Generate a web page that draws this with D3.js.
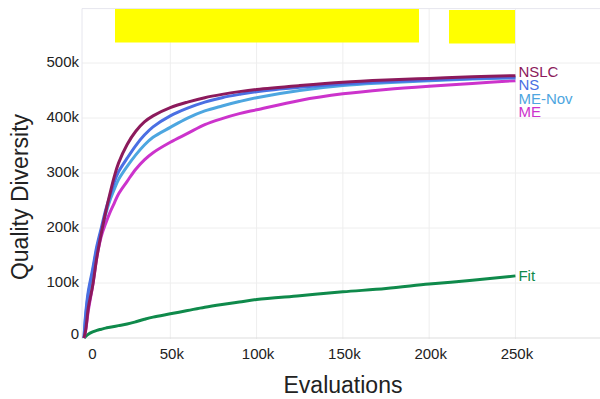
<!DOCTYPE html>
<html><head><meta charset="utf-8">
<script src="https://cdn.jsdelivr.net/npm/d3@7"></script>
<style>html,body{margin:0;padding:0;background:#fff;}svg{display:block;font-family:"Liberation Sans",Arial,sans-serif;}</style>
</head><body>
<svg id="chart" width="600" height="399"></svg>
<script>
const evals = [0,1000,2500,5000,7500,10000,12500,15000,17500,20000,25000,30000,35000,40000,50000,60000,70000,80000,90000,100000,125000,150000,175000,200000,225000,250000];
const nslc  = [0,15000,55000,95000,148000,190000,228000,262000,293000,318000,352000,376000,393000,404000,419000,429000,437000,443000,448000,452000,459000,465000,469000,472000,475000,477000];
const ns    = [0,45000,85000,125000,168000,200000,232000,258000,283000,302000,327000,350000,369000,384000,404000,418000,429000,437000,443000,448000,456000,462000,466000,469000,472000,474000];
const meNov = [0,40000,80000,120000,163000,195000,225000,250000,270000,288000,312000,333000,351000,365000,383000,400000,413000,422000,430000,437000,450000,459000,464000,468000,471000,473000];
const me    = [0,15000,50000,95000,148000,185000,208000,228000,245000,262000,285000,307000,324000,337000,356000,372000,388000,399000,408000,415000,432000,444000,452000,458000,463000,468000];
const fit   = [0,3000,7000,11000,14000,16000,18000,19500,21000,22500,25500,29500,34000,38000,44000,50000,56000,61000,65500,70000,77000,84000,90000,98000,105000,113000];
const seriesNames = ["NSLC","NS","ME-Nov","ME","Fit"];
const seriesColors = ["#8c1a5c","#4a6fe3","#4da6e0","#cc33cc","#0f8a4b"];
const xTicks = [0,50000,100000,150000,200000,250000];
const yTicks = [0,100000,200000,300000,400000,500000];
const fmt = v => v === 0 ? "0" : (v/1000) + "k";

const svg = d3.select("#chart");
const x = d3.scaleLinear().domain([-1160, 299000]).range([82, 600]);
const y = d3.scaleLinear().domain([-1800, 599000]).range([339, 8.6]);

// gridlines
svg.append("g").selectAll("line").data(xTicks.slice(1).concat([300000])).join("line")
  .attr("x1", d => x(d)).attr("x2", d => x(d)).attr("y1", y.range()[1]).attr("y2", y.range()[0])
  .attr("stroke", "#eeeeee").attr("stroke-width", 1);
svg.append("g").selectAll("line").data(yTicks.slice(1)).join("line")
  .attr("x1", 82).attr("x2", 600).attr("y1", d => y(d)).attr("y2", d => y(d))
  .attr("stroke", "#eeeeee").attr("stroke-width", 1);
// frame
svg.append("line").attr("x1", 82).attr("x2", 600).attr("y1", 8.6).attr("y2", 8.6).attr("stroke", "#e6e6ee");
svg.append("line").attr("x1", 82).attr("x2", 82).attr("y1", 8.6).attr("y2", 339).attr("stroke", "#e6e6ee");
svg.append("line").attr("x1", 82).attr("x2", 600).attr("y1", y(0)).attr("y2", y(0)).attr("stroke", "#dddddd");

// yellow boxes
svg.append("rect").attr("x", 115).attr("y", 9).attr("width", 304).attr("height", 33.5).attr("fill", "#ffff00");
svg.append("rect").attr("x", 449).attr("y", 10).attr("width", 66).attr("height", 33.5).attr("fill", "#ffff00");

// axes
const xAxis = svg.append("g").attr("transform", `translate(0,${y(0)})`)
  .call(d3.axisBottom(x).tickValues(xTicks).tickFormat(fmt).tickSize(0).tickPadding(10));
xAxis.select(".domain").remove();
xAxis.selectAll("text").attr("font-size", 15).attr("fill", "#222").attr("font-family", "Liberation Sans, Arial, sans-serif")
  .attr("dx", d => d === 0 ? 8 : 1);
const yAxis = svg.append("g").attr("transform", `translate(79,0)`)
  .call(d3.axisLeft(y).tickValues(yTicks).tickFormat(fmt).tickSize(0).tickPadding(0));
yAxis.select(".domain").remove();
yAxis.selectAll("text").attr("font-size", 15).attr("fill", "#222").attr("font-family", "Liberation Sans, Arial, sans-serif")
  .attr("dy", d => d === 0 ? "-0.0em" : "0.25em");

// axis titles
svg.append("text").attr("x", 343).attr("y", 393).attr("text-anchor", "middle")
  .attr("font-size", 23).attr("fill", "#222").text("Evaluations");
svg.append("text").attr("transform", "translate(28,197) rotate(-90)").attr("text-anchor", "middle")
  .attr("font-size", 23).attr("fill", "#222").text("Quality Diversity");

// lines
const data = [nslc, ns, meNov, me, fit];
const line = d3.line().x((d, i) => x(evals[i])).y(d => y(d)).curve(d3.curveCatmullRom.alpha(0.5));
const order = [4, 3, 2, 1, 0];
svg.append("g").selectAll("path").data(order).join("path")
  .attr("d", k => line(data[k])).attr("fill", "none")
  .attr("stroke", k => seriesColors[k]).attr("stroke-width", 3).attr("stroke-linejoin", "round");

// end labels with simple stacking
const last = evals.length - 1;
let prev = -Infinity;
const labelY = [];
[0,1,2,3].forEach((k, i) => {
  let c = y(data[k][last]);
  if (i === 0) c -= 4.5;
  c = Math.max(c, prev + 13.5);
  labelY[k] = c; prev = c;
});
labelY[4] = y(fit[last]);
svg.append("g").selectAll("text").data(seriesNames).join("text")
  .attr("x", x(evals[last]) + 3).attr("y", (d, i) => labelY[i]).attr("dy", "0.36em")
  .attr("font-size", 15).attr("fill", (d, i) => seriesColors[i]).text(d => d);
</script>
</body></html>
